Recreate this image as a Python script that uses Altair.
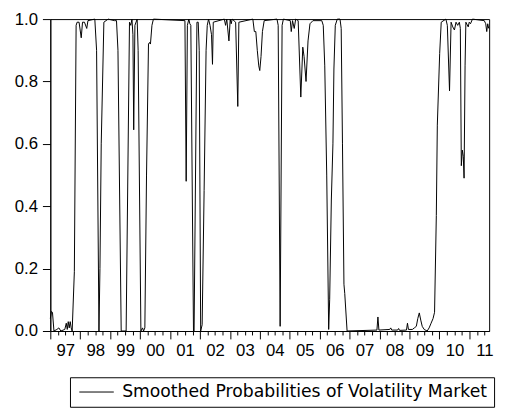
import altair as alt
import pandas as pd

SERIES_NAME = "Smoothed Probabilities of Volatility Market"

years = [
    1997.000, 1997.039, 1997.072, 1997.122, 1997.220, 1997.286, 1997.352, 1997.484,
    1997.533, 1997.566, 1997.599, 1997.632, 1997.664, 1997.697, 1997.730, 1997.803,
    1997.862, 1997.895, 1997.961, 1998.033, 1998.076, 1998.141, 1998.217, 1998.257,
    1998.487, 1998.546, 1998.625, 1998.658, 1998.701, 1998.789, 1998.931, 1999.145,
    1999.211, 1999.260, 1999.368, 1999.533, 1999.645, 1999.688, 1999.727, 1999.760,
    1999.786, 1999.826, 1999.901, 1999.934, 2000.026, 2000.082, 2000.115, 2000.158,
    2000.214, 2000.280, 2000.313, 2000.345, 2000.395, 2000.444, 2001.497, 2001.539,
    2001.579, 2001.628, 2001.661, 2001.694, 2001.783, 2001.803, 2001.898, 2001.941,
    2001.974, 2002.023, 2002.072, 2002.138, 2002.204, 2002.243, 2002.286, 2002.336,
    2002.385, 2002.418, 2002.444, 2002.813, 2002.855, 2002.895, 2002.967, 2003.010,
    2003.043, 2003.076, 2003.191, 2003.263, 2003.299, 2003.766, 2003.816, 2003.865,
    2003.914, 2003.964, 2003.997, 2004.039, 2004.086, 2004.145, 2004.572, 2004.612,
    2004.678, 2004.743, 2004.786, 2005.016, 2005.049, 2005.092, 2005.148, 2005.197,
    2005.280, 2005.368, 2005.434, 2005.477, 2005.543, 2005.609, 2005.674, 2005.773,
    2006.069, 2006.118, 2006.168, 2006.234, 2006.299, 2006.332, 2006.388, 2006.441,
    2006.474, 2006.520, 2006.586, 2006.678, 2006.717, 2006.760, 2006.809, 2006.836,
    2006.914, 2007.911, 2007.944, 2007.977, 2008.339, 2008.372, 2008.405, 2008.602,
    2008.635, 2008.668, 2008.898, 2008.931, 2008.964, 2009.095, 2009.161, 2009.227,
    2009.276, 2009.326, 2009.375, 2009.424, 2009.490, 2009.589, 2009.655, 2009.720,
    2009.786, 2009.836, 2009.895, 2009.928, 2010.007, 2010.059, 2010.214, 2010.263,
    2010.336, 2010.388, 2010.444, 2010.500, 2010.553, 2010.609, 2010.664, 2010.697,
    2010.730, 2010.763, 2010.796, 2010.822, 2010.855, 2010.882, 2010.961, 2010.993,
    2011.036, 2011.102, 2011.497, 2011.546, 2011.579, 2011.612, 2011.645,
]

# smoothed probability at each observation
probs = [
    0.040, 0.063, 0.060, 0.000, 0.005, 0.010, 0.000, 0.005,
    0.025, 0.005, 0.030, 0.010, 0.030, 0.010, 0.000, 0.190,
    0.980, 0.990, 0.990, 0.940, 0.990, 0.990, 0.970, 0.995,
    1.000, 0.900, 0.000, 0.200, 0.600, 0.990, 1.000, 0.995,
    0.995, 0.900, 0.000, 0.000, 0.990, 0.980, 1.000, 0.950,
    0.645, 0.980, 1.000, 0.900, 0.000, 0.010, 0.000, 0.010,
    0.500, 0.920, 0.925, 0.920, 0.980, 1.000, 0.995, 0.480,
    0.980, 1.000, 0.985, 0.980, 0.000, 0.000, 0.990, 0.990,
    0.900, 0.000, 0.020, 0.450, 0.900, 0.980, 1.000, 0.980,
    0.950, 0.855, 0.990, 1.000, 0.980, 1.000, 0.930, 1.000,
    0.985, 1.000, 0.990, 0.720, 0.990, 1.000, 0.960, 0.960,
    0.900, 0.850, 0.835, 0.880, 0.960, 0.995, 1.000, 0.980,
    0.015, 0.980, 1.000, 0.995, 0.960, 0.995, 0.970, 1.000,
    0.995, 0.750, 0.910, 0.880, 0.800, 0.930, 0.985, 0.995,
    0.995, 0.980, 0.850, 0.500, 0.005, 0.100, 0.420, 0.600,
    0.840, 0.980, 1.000, 1.000, 0.970, 0.600, 0.150, 0.120,
    0.000, 0.003, 0.045, 0.003, 0.005, 0.010, 0.003, 0.003,
    0.008, 0.002, 0.003, 0.025, 0.005, 0.005, 0.010, 0.015,
    0.040, 0.058, 0.035, 0.015, 0.005, 0.000, 0.010, 0.025,
    0.040, 0.060, 0.370, 0.660, 0.890, 0.990, 1.000, 0.980,
    0.770, 0.990, 0.975, 0.965, 0.990, 0.980, 0.990, 0.970,
    0.530, 0.580, 0.560, 0.490, 0.850, 0.990, 0.975, 0.990,
    0.985, 1.000, 0.995, 0.985, 0.960, 0.985, 0.970,
]

# axis: quarterly ticks, long ticks at year starts, labels at mid-year
quarter_ticks = [1997 + q / 4 for q in range(0, 59)]
y_ticks = [0.0, 0.2, 0.4, 0.6, 0.8, 1.0]

df = pd.DataFrame({"year": years, "prob": probs, "series": SERIES_NAME})

FONT = "Liberation Sans"

chart = (
    alt.Chart(df)
    .mark_line(strokeWidth=1, interpolate="linear", color="#000000")
    .encode(
        x=alt.X(
            "year:Q",
            scale=alt.Scale(domain=[1997.0, 2011.66], nice=False, zero=False),
            axis=alt.Axis(
                title=None,
                values=quarter_ticks,
                labelExpr="datum.value % 1 === 0.5 ? slice(toString(floor(datum.value)), 2) : ''",
                tickSize={"condition": {"test": "datum.value % 1 === 0", "value": 8}, "value": 4},
                labelPadding=8,
                labelOverlap=False,
                labelFlush=False,
                grid=False,
            ),
        ),
        y=alt.Y(
            "prob:Q",
            scale=alt.Scale(domain=[0, 1], nice=False),
            axis=alt.Axis(
                title=None,
                values=y_ticks,
                format=".1f",
                tickSize=8,
                labelPadding=5,
                grid=False,
            ),
        ),
        color=alt.Color(
            "series:N",
            scale=alt.Scale(domain=[SERIES_NAME], range=["#000000"]),
            legend=alt.Legend(
                title=None,
                orient="none",
                legendX=20,
                legendY=364,
                symbolType="M-2.06,0L2.06,0",
                symbolSize=289,
                symbolStrokeWidth=1,
                symbolStrokeColor="#000000",
                symbolOffset=12,
                labelFontSize=17.5,
                labelFont="DejaVu Sans",
                labelColor="#000000",
                labelLimit=600,
                labelOffset=17,
                padding=6,
                strokeColor="#000000",
            ),
        ),
    )
    .properties(
        width=446,
        height=317,
        background="#ffffff",
        autosize=alt.AutoSizeParams(type="none"),
        padding={"left": 43, "top": 8, "right": 10, "bottom": 77},
    )
    .configure_view(stroke="#000000", strokeWidth=1)
    .configure_axis(
        domainColor="#000000",
        tickColor="#000000",
        labelColor="#000000",
        labelFont=FONT,
        labelFontSize=17,
        domainWidth=1,
        tickWidth=1,
    )
)

chart.save("out.html", embed_options={"renderer": "svg", "actions": False})
